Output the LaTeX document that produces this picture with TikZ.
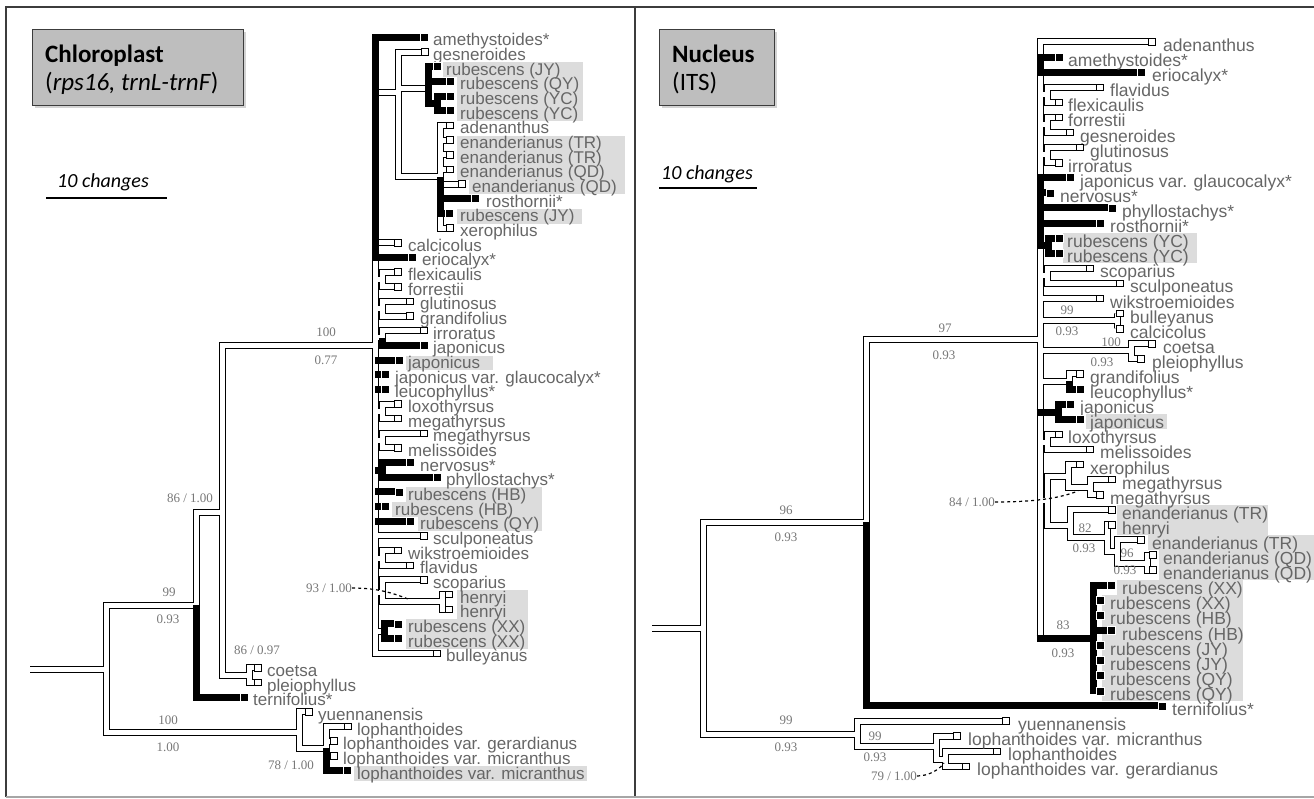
\documentclass[tikz,border=0pt]{standalone}
\usepackage{fontspec}
\setmainfont{Liberation Sans}
\newfontfamily\numfont{Liberation Serif}
\newfontfamily\calfont{Carlito}
\usetikzlibrary{shadows}

\definecolor{taxgray}{HTML}{666666}
\definecolor{numgray}{HTML}{777777}
\definecolor{hlgray}{HTML}{DCDCDC}
\definecolor{boxgray}{HTML}{BEBEBE}
\definecolor{framegray}{HTML}{3C3C3C}

\pgfdeclarelayer{back}
\pgfdeclarelayer{branches}
\pgfsetlayers{back,branches,main}

\tikzset{
  brout/.style={line width=7pt, black},
  brin/.style={line width=5pt, white},
  brfill/.style={line width=7pt, black},
  obox/.style={draw=black, fill=white, line width=0.9pt, minimum size=6.5pt, inner sep=0pt},
  fbox/.style={draw=white, fill=black, line width=0.7pt, minimum size=8pt, inner sep=0pt},
  taxl/.style={anchor=base west, inner sep=0pt, text=taxgray, font=\fontsize{17}{17}\selectfont},
  taxr/.style={anchor=base west, inner sep=0pt, text=taxgray, font=\fontsize{17.5}{17}\selectfont},
  supp/.style={inner sep=0pt, text=numgray, font=\numfont\fontsize{13}{13}\selectfont},
  titlebox/.style={draw=framegray, fill=boxgray, line width=1pt, anchor=north west,
    drop shadow={opacity=0.35, shadow xshift=2pt, shadow yshift=-2.5pt}},
  titletext/.style={anchor=base west, inner sep=0pt, font=\calfont\fontsize{25}{25}\selectfont},
  changes/.style={font=\calfont\itshape\fontsize{20}{20}\selectfont, inner sep=0pt},
  scalebar/.style={line width=2.5pt},
  guide/.style={dashed, line width=1.2pt},
}

\begin{document}
\begin{tikzpicture}[x=1pt, y=-1pt]
\useasboundingbox (0,0) rectangle (1314,799);

% frame of the two panels
\draw[framegray, line width=1.6pt] (6,797) -- (6,7) -- (1314,7);
\draw[framegray, line width=1.6pt] (635,7) -- (635,797);
\draw[gray!70, line width=1.4pt] (6,797) -- (1314,797);

% titles
\node[titlebox, minimum width=211pt, minimum height=76pt] (cpbox) at (32,29) {};
\node[titletext] (cpname) at (45,63) {\textbf{Chloroplast}};
\node[titletext] (cpgene) at (45,91) {(\textit{rps16, trnL-trnF})};
\node[titlebox, minimum width=115pt, minimum height=76pt] (nubox) at (659,29) {};
\node[titletext] (nuname) at (672,63) {\textbf{Nucleus}};
\node[titletext] (nugene) at (672,91) {(ITS)};

% scale bars
\node[changes] (chgL) at (103,182) {10 changes};
\draw[scalebar] (46,198) -- (167,198);
\node[changes] (chgR) at (707,174) {10 changes};
\draw[scalebar] (659,188) -- (757,188);

% ---------------- chloroplast tree ----------------
% highlighted accessions
\begin{pgfonlayer}{back}
\foreach \n/\xa/\xb in {3/443/583, 4/457/583, 5/457/583, 6/457/583, 8/457/625, 9/457/625,
    10/457/625, 11/469/625, 13/457/582, 23/406/493, 32/406/542, 33/392/542, 34/418/542,
    39/457/528, 40/457/528, 41/406/528, 42/406/528, 51/354/587}
  \fill[hlgray] (\xa,{33+14.66*(\n-1)}) rectangle (\xb,{47.7+14.66*(\n-1)});
\end{pgfonlayer}

% tips
\foreach \n/\bx/\tx/\bs/\lab in {
    1/424/433/fbox/amethystoides*, 2/425/433/obox/gesneroides,
    3/437/446/fbox/rubescens (JY), 4/450/460/fbox/rubescens (QY),
    5/450/460/fbox/rubescens (YC), 6/450/460/fbox/rubescens (YC),
    7/450/460/obox/adenanthus, 8/450/460/obox/enanderianus (TR),
    9/450/460/obox/enanderianus (TR), 10/450/460/obox/enanderianus (QD),
    11/462/472/obox/enanderianus (QD), 12/475/486/fbox/rosthornii*,
    13/449/460/fbox/rubescens (JY), 14/450/460/obox/xerophilus,
    15/398/408/obox/calcicolus, 16/412/422/fbox/eriocalyx*,
    17/398/408/obox/flexicaulis, 18/398/408/obox/forrestii,
    19/410/420/obox/glutinosus, 20/410/420/obox/grandifolius,
    21/424/433/obox/irroratus, 22/424/433/fbox/japonicus,
    23/399/408/fbox/japonicus, 24/385/395/fbox/japonicus var. glaucocalyx*,
    25/385/395/fbox/leucophyllus*, 26/398/408/obox/loxothyrsus,
    27/398/408/obox/megathyrsus, 28/424/433/obox/megathyrsus,
    29/398/408/obox/melissoides, 30/410/420/fbox/nervosus*,
    31/437/446/fbox/phyllostachys*, 32/399/408/fbox/rubescens (HB),
    33/385/395/fbox/rubescens (HB), 34/410/420/fbox/rubescens (QY),
    35/424/433/obox/sculponeatus, 36/398/408/obox/wikstroemioides,
    37/410/420/obox/flavidus, 38/424/433/obox/scoparius,
    39/449/460/obox/henryi, 40/449/460/obox/henryi,
    41/398/408/fbox/rubescens (XX), 42/398/408/fbox/rubescens (XX),
    43/437/446/obox/bulleyanus, 44/258/267/obox/coetsa,
    45/258/267/obox/pleiophyllus, 46/244/253/fbox/ternifolius*,
    47/309/318/obox/yuennanensis, 48/348/357/obox/lophanthoides,
    49/334/343/obox/lophanthoides var. gerardianus,
    50/334/343/obox/lophanthoides var. micranthus,
    51/347/357/fbox/lophanthoides var. micranthus}
{
  \node[\bs] (l\n) at (\bx,{37.5+14.66*(\n-1)}) {};
  \node[taxl] (lt\n) at (\tx,{46+14.66*(\n-1)}) {\lab};
}

% inner nodes
\coordinate (lstem) at (30,669);
\coordinate (lroot) at (106,669);
\coordinate (la) at (196,605);
\coordinate (lb) at (222,512);
\coordinate (lc) at (299,732);
\coordinate (lcp) at (249,675);
\coordinate (ld) at (326,748);
\coordinate (lbig) at (375,346);
\coordinate (le) at (375,253);
\coordinate (lh) at (398,93);
\coordinate (lk) at (428,89);
\coordinate (lk2) at (437,103.5);
\coordinate (lm) at (440,177);
\coordinate (lp1) at (382,279.4);
\coordinate (lp2) at (382,308.7);
\coordinate (lp3) at (382,338);
\coordinate (lp4) at (382,411.3);
\coordinate (lp5) at (382,440.6);
\coordinate (lp6) at (382,470);
\coordinate (lp7) at (382,558.9);
\coordinate (lp8) at (382,592);
\coordinate (lhn) at (442,601.9);
\coordinate (lp9) at (384,631);

\begin{pgfonlayer}{branches}
\foreach \s in {brout,brin}
  \draw[\s] (lstem) -- (lroot) (lroot) |- (la) (lroot) |- (lc)
    (la) |- (lb) (lb) |- (lbig) (lb) |- (lcp) (lcp) |- (l44) (lcp) |- (l45)
    (lc) |- (l47) (lc) |- (ld) (ld) |- (l48) (ld) |- (l49) (ld) |- (l50)
    (lbig) -- (le) (le) |- (l15) (le) |- (lh) (lh) |- (l2) (lh) |- (lk) (lh) |- (lm)
    (lm) |- (l7) (lm) |- (l8) (lm) |- (l9) (lm) |- (l10) (lm) |- (l11) (lm) |- (l14)
    (lbig) |- (lp1) (lp1) |- (l17) (lp1) |- (l18)
    (lbig) |- (lp2) (lp2) |- (l19) (lp2) |- (l20)
    (lbig) |- (lp3) (lp3) |- (l21)
    (lbig) |- (lp4) (lp4) |- (l26) (lp4) |- (l27)
    (lbig) |- (lp5) (lp5) |- (l28) (lp5) |- (l29)
    (lbig) |- (l35)
    (lbig) |- (lp7) (lp7) |- (l36) (lp7) |- (l37)
    (lbig) |- (lp8) (lp8) |- (l38) (lp8) |- (lhn) (lhn) |- (l39) (lhn) |- (l40)
    (lbig) |- (lp9) (lbig) |- (l43);
% black branches
\draw[brfill] (le) |- (l1) (le) |- (l16)
  (lk) |- (l3) (lk) |- (l4) (lk) |- (lk2) (lk2) |- (l5) (lk2) |- (l6)
  (lm) |- (l12) (lm) |- (l13)
  (lp3) |- (l22)
  (lbig |- l23) -- (l23) (lbig |- l24) -- (l24) (lbig |- l25) -- (l25)
  (lbig |- lp6) -- (lp6) (lp6) |- (l30) (lp6) |- (l31)
  (lbig |- l32) -- (l32) (lbig |- l33) -- (l33) (lbig |- l34) -- (l34)
  (lp9) |- (l41) (lp9) |- (l42)
  (la) |- (l46) (ld) |- (l51);
\end{pgfonlayer}

% support values
\node[supp] (sl1) at (326,332) {100};
\node[supp] (sl2) at (326,360) {0.77};
\node[supp] (sl3) at (190,498) {86 / 1.00};
\node[supp] (sl4) at (169,592) {99};
\node[supp] (sl5) at (168,619) {0.93};
\node[supp] (sl6) at (257,650) {86 / 0.97};
\node[supp] (sl7) at (168,720) {100};
\node[supp] (sl8) at (168,747) {1.00};
\node[supp] (sl9) at (291,765) {78 / 1.00};
\node[supp] (s93) at (329,588) {93 / 1.00};
\coordinate (g93) at (408,599);
\draw[guide] (s93.east) .. controls +(25,0) and +(-15,-6) .. (g93);

% ---------------- nuclear tree ----------------
\begin{pgfonlayer}{back}
\foreach \n/\xa/\xb in {14/1063/1197, 15/1063/1197, 26/1086/1167, 32/1117/1268, 33/1117/1268,
    34/1148/1314, 35/1159/1314, 36/1159/1314, 37/1117/1243, 38/1102/1243, 39/1102/1243,
    40/1102/1243, 41/1102/1243, 42/1102/1243, 43/1102/1243, 44/1102/1243}
  \fill[hlgray] (\xa,{37+15.09*(\n-1)}) rectangle (\xb,{52.1+15.09*(\n-1)});
\end{pgfonlayer}

\foreach \n/\bx/\tx/\bs/\lab in {
    1/1152/1163/obox/adenanthus, 2/1059/1068/fbox/amethystoides*,
    3/1141/1152/fbox/eriocalyx*, 4/1100/1110/obox/flavidus,
    5/1059/1068/obox/flexicaulis, 6/1059/1068/obox/forrestii,
    7/1070/1080/obox/gesneroides, 8/1080/1090/obox/glutinosus,
    9/1059/1068/obox/irroratus, 10/1070/1080/fbox/japonicus var. glaucocalyx*,
    11/1050/1060/fbox/nervosus*, 12/1112/1122/fbox/phyllostachys*,
    13/1100/1110/fbox/rosthornii*, 14/1059/1067/fbox/rubescens (YC),
    15/1059/1067/fbox/rubescens (YC), 16/1090/1100/obox/scoparius,
    17/1120/1130/obox/sculponeatus, 18/1100/1110/obox/wikstroemioides,
    19/1120/1130/obox/bulleyanus, 20/1120/1130/obox/calcicolus,
    21/1152/1163/obox/coetsa, 22/1141/1152/obox/pleiophyllus,
    23/1080/1090/obox/grandifolius, 24/1080/1090/fbox/leucophyllus*,
    25/1070/1080/fbox/japonicus, 26/1080/1090/fbox/japonicus,
    27/1059/1068/obox/loxothyrsus, 28/1090/1100/obox/melissoides,
    29/1080/1090/obox/xerophilus, 30/1112/1122/obox/megathyrsus,
    31/1100/1110/obox/megathyrsus, 32/1112/1122/obox/enanderianus (TR),
    33/1112/1122/obox/henryi, 34/1141/1152/obox/enanderianus (TR),
    35/1153/1163/obox/enanderianus (QD), 36/1153/1163/obox/enanderianus (QD),
    37/1111/1122/fbox/rubescens (XX), 38/1100/1110/fbox/rubescens (XX),
    39/1100/1110/fbox/rubescens (HB), 40/1111/1122/fbox/rubescens (HB),
    41/1100/1110/fbox/rubescens (JY), 42/1100/1110/fbox/rubescens (JY),
    43/1100/1110/fbox/rubescens (QY), 44/1100/1110/fbox/rubescens (QY),
    45/1162/1172/fbox/ternifolius*, 46/1006/1018/obox/yuennanensis,
    47/957/968/obox/lophanthoides var. micranthus,
    48/997/1008/obox/lophanthoides,
    49/966/977/obox/lophanthoides var. gerardianus}
{
  \node[\bs] (r\n) at (\bx,{42+15.09*(\n-1)}) {};
  \node[taxr] (rt\n) at (\tx,{51.5+15.09*(\n-1)}) {\lab};
}

% inner nodes
\coordinate (rstem) at (652,628);
\coordinate (rroot) at (703,628);
\coordinate (ra) at (866,522);
\coordinate (rc) at (857,734);
\coordinate (rb) at (1040,340);
\coordinate (rg1) at (1040,65);
\coordinate (rq1) at (1047,95);
\coordinate (rq2) at (1047,125);
\coordinate (rq3) at (1047,155);
\coordinate (rg2) at (1040,216);
\coordinate (rys) at (1048,246);
\coordinate (rq4) at (1047,276);
\coordinate (rbc) at (1117,321);
\coordinate (rcp) at (1131,351);
\coordinate (rgl) at (1069,381);
\coordinate (rjj) at (1058,412);
\coordinate (rlm) at (1047,442);
\coordinate (rxe) at (1047,500);
\coordinate (rx1) at (1068,476);
\coordinate (rx2) at (1090,487);
\coordinate (ren) at (1070,525);
\coordinate (rh2) at (1107,537);
\coordinate (re3) at (1117,551);
\coordinate (re4) at (1147,563);
\coordinate (rrb) at (1093,638);
\coordinate (rbb) at (1036.5,638);
\coordinate (rbj) at (1036.5,412);
\coordinate (rn2) at (936,746);
\coordinate (rn3) at (945,759);

\begin{pgfonlayer}{branches}
\foreach \s in {brout,brin}
  \draw[\s] (rstem) -- (rroot) (rroot) |- (ra) (rroot) |- (rc) (ra) |- (rb)
    (rb) |- (r1) (rb) |- (rq1) (rq1) |- (r4) (rq1) |- (r5)
    (rb) |- (rq2) (rq2) |- (r6) (rq2) |- (r7)
    (rb) |- (rq3) (rq3) |- (r8) (rq3) |- (r9)
    (rb) |- (rq4) (rq4) |- (r16) (rq4) |- (r17) (rb) |- (r18)
    (rb) |- (rbc) (rbc) |- (r19) (rbc) |- (r20)
    (rb) |- (rcp) (rcp) |- (r21) (rcp) |- (r22)
    (rb) |- (rgl) (rgl) |- (r23)
    (rb) |- (rlm) (rlm) |- (r27) (rlm) |- (r28)
    (rb) |- (rxe) (rxe) |- (rx1) (rx1) |- (r29) (rx1) |- (rx2) (rx2) |- (r30) (rx2) |- (r31)
    (rxe) |- (ren) (ren) |- (r32) (ren) |- (rh2) (rh2) |- (r33) (rh2) |- (re3)
    (re3) |- (r34) (re3) |- (re4) (re4) |- (r35) (re4) |- (r36)
    (rb) |- (rrb)
    (rc) |- (r46) (rc) |- (rn2) (rn2) |- (r47) (rn2) |- (rn3) (rn3) |- (r48) (rn3) |- (r49);
% black branches
\draw[brfill] (rg1) |- (r2) (rg1) |- (r3)
  (rg2) |- (r10) (rg2) |- (r11) (rg2) |- (r12) (rg2) |- (r13)
  (rg2) |- (rys) (rys) |- (r14) (rys) |- (r15)
  (rgl) |- (r24)
  (rbj) -- (rjj) (rjj) |- (r25) (rjj) |- (r26)
  (rbb) -- (rrb) (rrb) |- (r37) (rrb) |- (r38) (rrb) |- (r39) (rrb) |- (r40)
  (rrb) |- (r41) (rrb) |- (r42) (rrb) |- (r43) (rrb) |- (r44)
  (ra) |- (r45);
\end{pgfonlayer}

% support values
\node[supp] (sr1) at (945,328) {97};
\node[supp] (sr2) at (944,355) {0.93};
\node[supp] (sr3) at (786,510) {96};
\node[supp] (sr4) at (786,537) {0.93};
\node[supp] (sr5) at (786,720) {99};
\node[supp] (sr6) at (786,747) {0.93};
\node[supp] (sr7) at (875,736) {99};
\node[supp] (sr8) at (875,757) {0.93};
\node[supp] (sr9) at (1067,310) {99};
\node[supp] (sr10) at (1067,331) {0.93};
\node[supp] (sr11) at (1111,342) {100};
\node[supp] (sr12) at (1102,362) {0.93};
\node[supp] (sr13) at (1085,528) {82};
\node[supp] (sr14) at (1084,548) {0.93};
\node[supp] (sr15) at (1127,553) {96};
\node[supp] (sr16) at (1125,570) {0.93};
\node[supp] (sr17) at (1063,625) {83};
\node[supp] (sr18) at (1063,653) {0.93};
\node[supp] (s84) at (972,502) {84 / 1.00};
\node[supp] (s79) at (894,776) {79 / 1.00};
\coordinate (g84) at (1078,491);
\coordinate (g79) at (944,763);
\draw[guide] (s84.east) .. controls +(35,0) and +(-20,8) .. (g84);
\draw[guide] (s79.east) .. controls +(12,0) and +(-4,6) .. (g79);

\end{tikzpicture}
\end{document}
